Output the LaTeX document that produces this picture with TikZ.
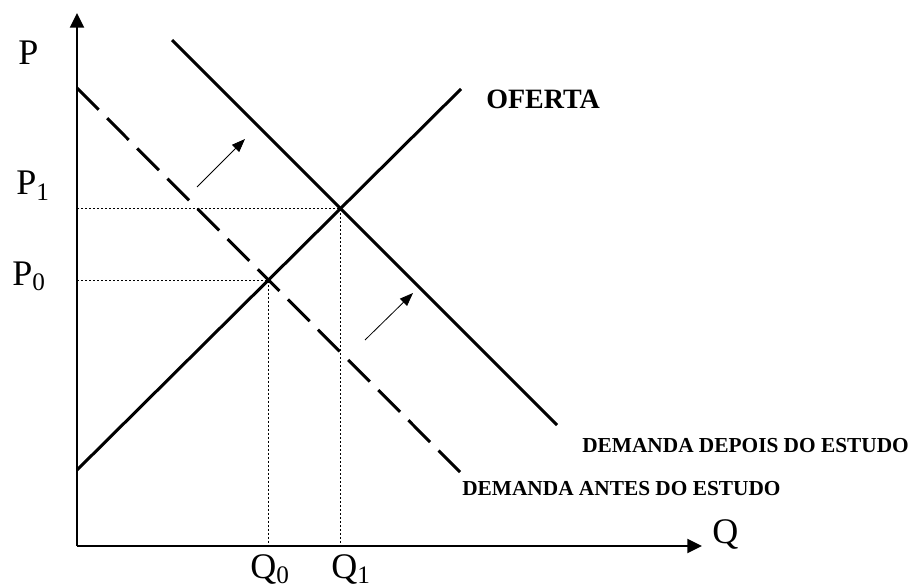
\documentclass[tikz,border=0pt]{standalone}
\usepackage{fontspec}
\setmainfont{Liberation Serif}
\usetikzlibrary{arrows.meta}

\begin{document}
\begin{tikzpicture}[x=0.75pt, y=-0.75pt,
  axis/.style={line width=1.5pt, -{Triangle[width=10.5pt,length=11pt]}},
  curve/.style={line width=2.25pt},
  guide/.style={line width=0.75pt, dash pattern=on 1.5pt off 1.5pt},
  shiftarrow/.style={line width=0.6pt, -{Triangle[width=7.5pt,length=10pt]}},
  axlabel/.style={font=\fontsize{27}{30}\selectfont, inner sep=0pt, anchor=base west},
  curvelabel/.style={font=\bfseries\fontsize{16}{19}\selectfont, inner sep=0pt, anchor=base west}]

  \useasboundingbox (0,0) rectangle (917,588);

  % axes
  \coordinate (O) at (77,546);
  \coordinate (ytop) at (77,13);
  \coordinate (xend) at (702,546);
  \draw [axis] (O) -- (ytop);
  \draw [axis] (O) -- (xend);

  % curves
  \coordinate (s0) at (77,470);
  \coordinate (s1) at (461,89);
  \coordinate (da0) at (77,88);
  \coordinate (da1) at (460,472);
  \coordinate (dd0) at (172,40);
  \coordinate (dd1) at (557,425);
  \draw [curve] (s0) -- (s1);
  \draw [curve, dash pattern=on 23pt off 9pt] (da0) -- (da1);
  \draw [curve] (dd0) -- (dd1);

  % equilibria
  \coordinate (e0) at (intersection of s0--s1 and da0--da1);
  \coordinate (e1) at (intersection of s0--s1 and dd0--dd1);
  \draw [guide] (O |- e0) -- (e0) -- (e0 |- O);
  \draw [guide] (O |- e1) -- (e1) -- (e1 |- O);

  % shift of demand
  \coordinate (a0) at (197,187);
  \coordinate (a1) at (245,139);
  \coordinate (b0) at (365,340);
  \coordinate (b1) at (413,293);
  \draw [shiftarrow] (a0) -- (a1);
  \draw [shiftarrow] (b0) -- (b1);

  % labels
  \node [axlabel] (plab) at (18,65) {P};
  \node [axlabel] (p1lab) at (16,195) {P\textsubscript{1}};
  \node [axlabel] (p0lab) at (12,285) {P\textsubscript{0}};
  \node [axlabel] (qlab) at (712,543) {Q};
  \node [axlabel] (q0lab) at (250,578) {Q\textsubscript{0}};
  \node [axlabel] (q1lab) at (331,578) {Q\textsubscript{1}};
  \node [curvelabel, font=\bfseries\fontsize{21}{24}\selectfont] (oferta) at (486,109) {OFERTA};
  \node [curvelabel] (depois) at (582,452) {DEMANDA DEPOIS DO ESTUDO};
  \node [curvelabel] (antes) at (462,495) {DEMANDA ANTES DO ESTUDO};
\end{tikzpicture}
\end{document}
